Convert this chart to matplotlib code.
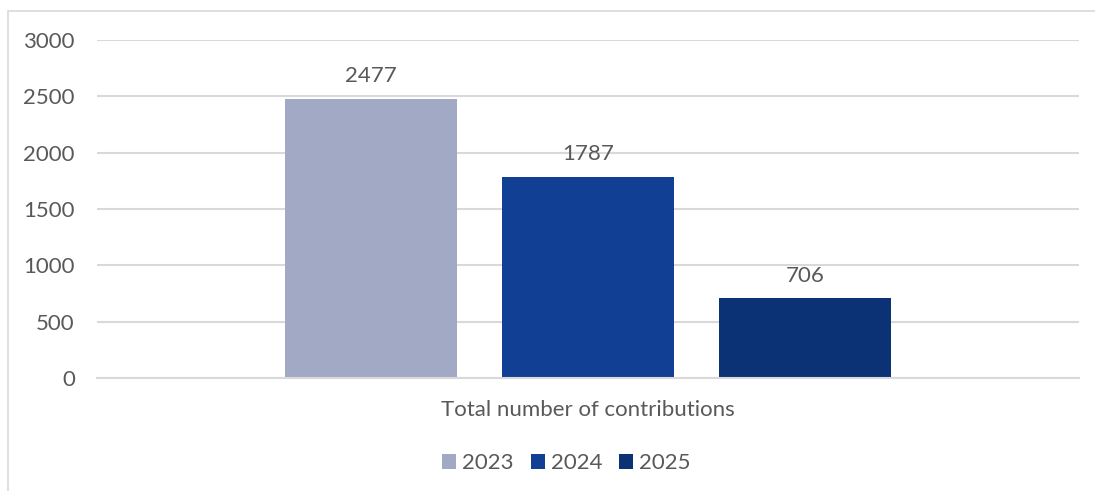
import matplotlib.pyplot as plt
from matplotlib.patches import Rectangle

plt.rcParams['font.family'] = ['Lato', 'DejaVu Sans']

years = ["2023", "2024", "2025"]
contributions = [2477, 1787, 706]
category = "Total number of contributions"
colors = ["#A2A9C4", "#103F94", "#0B3275"]
y_ticks = [0, 500, 1000, 1500, 2000, 2500, 3000]

TEXT = "#595959"
GRID = "#D9D9D9"
FS = 16

fig = plt.figure(figsize=(10.95, 4.91), dpi=100)
ax = fig.add_axes([97 / 1095, 1 - 378 / 491, 982 / 1095, 338 / 491])

# outer chart frame, cut off at the right and bottom edges
fig.patches.append(Rectangle((8 / 1095, -0.1), 1.2, 1 - 11 / 491 + 0.1,
                             transform=fig.transFigure, fill=False,
                             edgecolor=GRID, linewidth=1.2, clip_on=False))

bar_w = 172 / 982
gap = 45 / 982
for i, (year, val, col) in enumerate(zip(years, contributions, colors)):
    x = (i - 1) * (bar_w + gap)
    ax.bar(x, val, width=bar_w, color=col, label=year, zorder=2)
    ax.annotate(str(val), (x, val), xytext=(0, 9), textcoords="offset points",
                ha="center", va="bottom", fontsize=FS, color=TEXT)

ax.set_xlim(-0.5, 0.5)
ax.set_ylim(0, 3000)
ax.set_yticks(y_ticks)
ax.set_xticks([0])
ax.set_xticklabels([category])
ax.tick_params(axis="both", length=0, labelsize=FS, labelcolor=TEXT)
ax.tick_params(axis="y", pad=16)
ax.tick_params(axis="x", pad=16)
ax.yaxis.grid(True, color=GRID, linewidth=1.5, zorder=0)
ax.set_axisbelow(True)
for side in ["top", "right", "left"]:
    ax.spines[side].set_visible(False)
ax.spines["bottom"].set_color(GRID)
ax.spines["bottom"].set_linewidth(1.5)

ax.legend(loc="center", bbox_to_anchor=(0.478, -0.252), ncol=3, frameon=False,
          fontsize=FS, labelcolor=TEXT, handlelength=0.63, handleheight=0.63,
          handletextpad=0.27, columnspacing=0.75)

fig.savefig("out.png", dpi=100)
